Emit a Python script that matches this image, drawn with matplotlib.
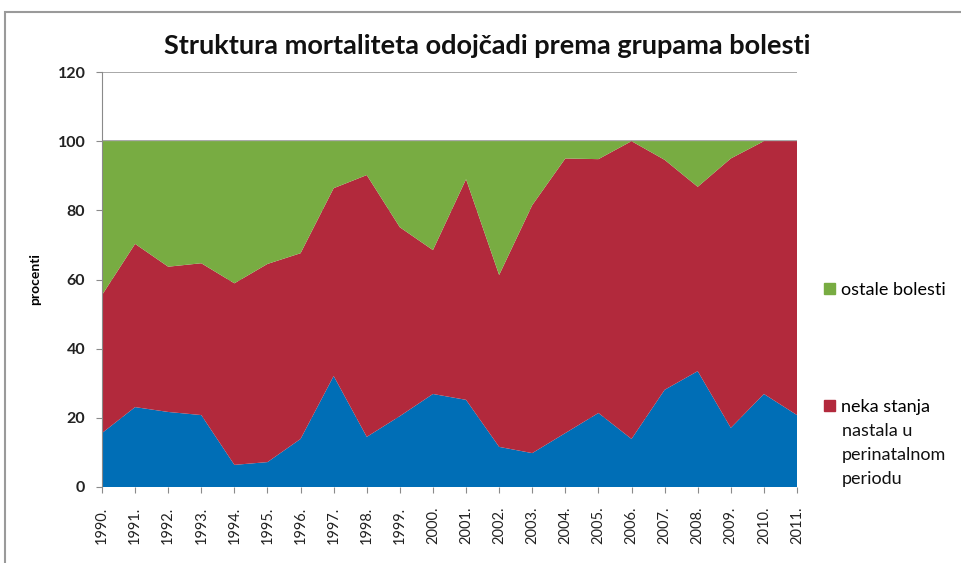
import matplotlib
matplotlib.use("Agg")
import matplotlib.pyplot as plt
from matplotlib.patches import Rectangle, Patch
import numpy as np

years = ["1990.", "1991.", "1992.", "1993.", "1994.", "1995.", "1996.", "1997.",
         "1998.", "1999.", "2000.", "2001.", "2002.", "2003.", "2004.", "2005.",
         "2006.", "2007.", "2008.", "2009.", "2010.", "2011."]
ostalo_dno = [15.6, 23.1, 21.7, 20.8, 6.4, 7.2, 13.9, 32.1, 14.5, 20.5, 26.9,
              25.2, 11.6, 9.8, 15.6, 21.4, 13.9, 28.1, 33.5, 17.1, 26.9, 20.8]
perinatalno = [39.9, 47.2, 42.0, 43.9, 52.5, 57.3, 53.7, 54.3, 75.7, 54.6, 41.6,
               63.8, 49.7, 71.7, 79.4, 73.4, 86.1, 66.5, 53.3, 77.9, 73.1, 79.2]
ostale_bolesti = [44.5, 29.7, 36.3, 35.3, 41.1, 35.5, 32.4, 13.6, 9.8, 24.9, 31.5,
                  11.0, 38.7, 18.5, 5.0, 5.2, 0.0, 5.4, 13.2, 5.0, 0.0, 0.0]
yticks = [0, 20, 40, 60, 80, 100, 120]

c_blue = "#006EB6"
c_red = "#B2293C"
c_green = "#78AC42"

plt.rcParams['font.family'] = ['Lato', 'DejaVu Sans']

fig = plt.figure(figsize=(9.62, 5.63), dpi=100)
ax = fig.add_axes([102/962, 1-487/563, 695/962, 415/563])

x = np.arange(len(years))
ax.stackplot(x, ostalo_dno, perinatalno, ostale_bolesti,
             colors=[c_blue, c_red, c_green], linewidth=0, zorder=2)

ax.set_xlim(0, len(years)-1)
ax.set_ylim(0, 120)
ax.set_yticks(yticks)
ax.set_yticklabels([str(v) for v in yticks], fontsize=11.5, fontweight='bold', color='#222222')
ax.set_xticks(x)
ax.set_xticklabels(years, rotation=90, fontsize=10.5, color='#222222')
ax.yaxis.grid(True, color='#9a9a9a', linewidth=1.2, zorder=0)
ax.set_axisbelow(True)
for s in ['top', 'right', 'bottom']:
    ax.spines[s].set_visible(False)
ax.spines['left'].set_color('#8a8a8a')
ax.tick_params(axis='y', length=4, color='#8a8a8a', pad=8)
ax.tick_params(axis='x', length=4, color='#8a8a8a', pad=10)
ax.set_ylabel("procenti", fontsize=10, fontweight='bold', labelpad=12)

fig.text(487/962, 1-46/563, "Struktura mortaliteta odojčadi prema grupama bolesti",
         ha='center', va='center', fontsize=19.5, fontweight='bold', color='#111111')

lkw = dict(loc='center left', frameon=False, fontsize=13, handlelength=0.6,
           handleheight=0.6, handletextpad=0.35, borderpad=0, borderaxespad=0)
leg1 = fig.legend(handles=[Patch(color=c_green)], labels=["ostale bolesti"],
                  bbox_to_anchor=(824/962, 1-290/563), **lkw)
leg2 = fig.legend(handles=[Patch(color=c_red)], labels=["neka stanja"],
                  bbox_to_anchor=(824/962, 1-407/563), **lkw)
fig.text(842/962, 1-423/563, "nastala u\nperinatalnom\nperiodu", ha='left', va='top',
         fontsize=13, linespacing=1.6, color='#111111')

fig.add_artist(Rectangle((5/962, -0.1), 1.1, 1-12/563+0.1, transform=fig.transFigure,
                         fill=False, edgecolor='#9a9a9a', linewidth=1.5))

fig.savefig("out.png", dpi=100)
